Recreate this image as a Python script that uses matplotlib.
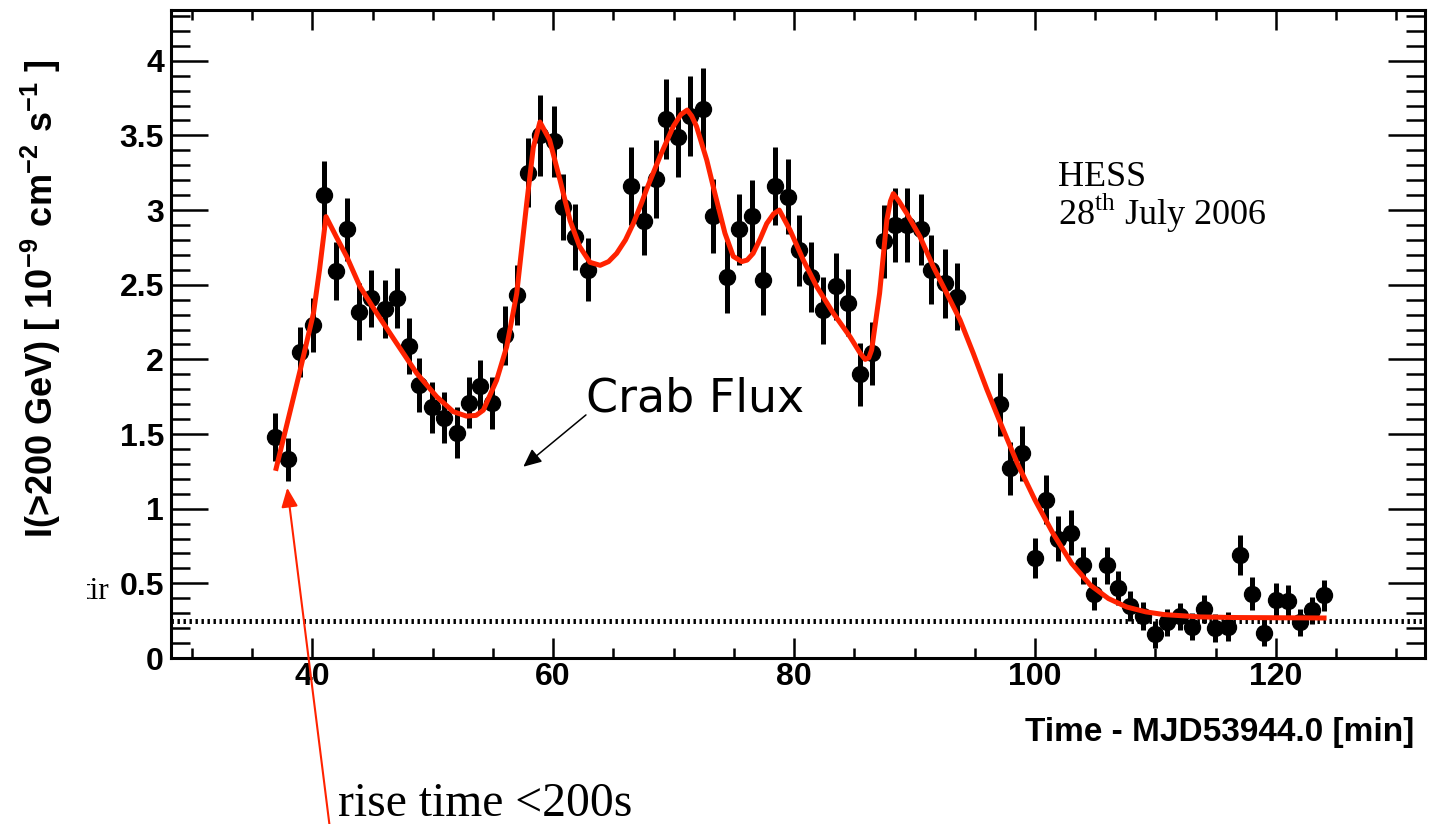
import numpy as np
import matplotlib
matplotlib.use("Agg")
import matplotlib.pyplot as plt
from matplotlib.ticker import MultipleLocator
from matplotlib.transforms import Bbox

# flux points (time in min after MJD53944.0, flux in 1e-9 cm^-2 s^-1)
t_pts = [36.9, 38.0, 39.0, 40.1, 41.0, 42.0, 42.9, 43.9, 44.9, 46.0,
         47.0, 48.0, 48.9, 49.9, 50.9, 52.0, 53.0, 53.9, 54.9, 56.0,
         57.0, 57.9, 58.9, 60.1, 60.8, 61.8, 62.9,
         66.5, 67.5, 68.5, 69.4, 70.4, 71.4, 72.4, 73.3, 74.4, 75.45,
         76.5, 77.45, 78.4, 79.5, 80.4, 81.4, 82.4, 83.5, 84.5, 85.5,
         86.5, 87.46, 88.4, 89.4, 90.5, 91.4, 92.5, 93.55,
         97.1, 97.9, 98.9, 100.0, 100.9, 101.9, 103.0, 104.0, 104.9, 105.95,
         106.9, 107.9, 109.0, 109.95, 111.0, 112.0, 113.05, 114.05, 114.95, 116.0,
         117.0, 118.0, 119.0, 120.0, 121.0, 122.0, 123.0, 124.0]
flux = [1.48, 1.33, 2.05, 2.23, 3.10, 2.59, 2.87, 2.32, 2.41, 2.34,
        2.41, 2.09, 1.83, 1.68, 1.61, 1.51, 1.71, 1.82, 1.71, 2.16,
        2.43, 3.25, 3.50, 3.46, 3.02, 2.82, 2.60,
        3.16, 2.93, 3.21, 3.61, 3.49, 3.63, 3.68, 2.96, 2.55, 2.87,
        2.96, 2.53, 3.16, 3.09, 2.73, 2.55, 2.33, 2.49, 2.38, 1.90,
        2.04, 2.79, 2.90, 2.90, 2.87, 2.60, 2.51, 2.42,
        1.70, 1.27, 1.37, 0.67, 1.06, 0.80, 0.84, 0.62, 0.43, 0.62,
        0.47, 0.35, 0.28, 0.16, 0.24, 0.28, 0.21, 0.33, 0.20, 0.21,
        0.69, 0.43, 0.17, 0.39, 0.38, 0.24, 0.32, 0.42]
flux_err = [0.16, 0.145, 0.17, 0.18, 0.23, 0.195, 0.21, 0.19, 0.19, 0.195,
            0.20, 0.185, 0.18, 0.17, 0.17, 0.17, 0.17, 0.175, 0.175, 0.195,
            0.20, 0.23, 0.27, 0.24, 0.22, 0.22, 0.21,
            0.26, 0.23, 0.26, 0.27, 0.27, 0.27, 0.27, 0.25, 0.24, 0.24,
            0.24, 0.23, 0.26, 0.25, 0.24, 0.235, 0.225, 0.225, 0.225, 0.21,
            0.21, 0.245, 0.25, 0.245, 0.24, 0.23, 0.23, 0.225,
            0.21, 0.175, 0.185, 0.135, 0.165, 0.15, 0.15, 0.125, 0.11, 0.125,
            0.115, 0.10, 0.095, 0.09, 0.09, 0.09, 0.09, 0.095, 0.095, 0.095,
            0.135, 0.11, 0.09, 0.11, 0.11, 0.09, 0.09, 0.105]

# fitted light curve (sum of bursts + constant)
fit_t = [37.0, 38.0, 39.0, 40.1, 40.6, 41.14, 42.0, 42.86, 43.96, 45.35,
         47.0, 48.67, 50.33, 51.7, 52.8, 53.6, 54.2, 55.3, 56.14, 56.97,
         57.8, 58.35, 58.9, 59.7, 60.57, 61.4, 62.2, 63.05, 63.9, 64.6,
         65.27, 66.0, 66.65, 67.3, 67.76, 68.87, 69.97, 70.6, 71.13, 71.5,
         71.9, 72.75, 73.43, 74.26, 74.95, 75.65, 76.1, 76.6, 77.2, 77.73,
         78.3, 78.77, 79.66, 80.76, 81.88, 83.26, 84.64, 85.5, 85.9, 86.2,
         86.44, 87.1, 87.7, 88.0, 88.24, 88.7, 89.35, 90.45, 91.56, 92.67,
         93.78, 94.88, 96.0, 97.0, 98.5, 100.0, 101.5, 103.05, 104.6, 106.1,
         107.6, 109.2, 110.7, 113.7, 116.8, 124.0]
fit_f = [1.27, 1.60, 1.93, 2.31, 2.60, 2.956, 2.82, 2.688, 2.487, 2.309,
         2.108, 1.907, 1.75, 1.65, 1.62, 1.625, 1.66, 1.86, 2.085, 2.44,
         3.045, 3.42, 3.59, 3.47, 3.2, 2.93, 2.755, 2.65, 2.63, 2.655,
         2.71, 2.80, 2.91, 3.04, 3.14, 3.36, 3.56, 3.64, 3.67, 3.63,
         3.56, 3.335, 3.11, 2.845, 2.69, 2.655, 2.665, 2.71, 2.81, 2.91,
         2.975, 3.0, 2.867, 2.666, 2.487, 2.309, 2.152, 2.04, 2.0, 2.01,
         2.063, 2.443, 2.934, 3.06, 3.11, 3.06, 2.978, 2.822, 2.62, 2.443,
         2.264, 2.04, 1.80, 1.60, 1.31, 1.058, 0.834, 0.633, 0.488, 0.398,
         0.342, 0.309, 0.291, 0.275, 0.271, 0.268]

baseline_flux = 0.248
RED = '#ff2200'

plt.rcParams['mathtext.fontset'] = 'custom'
plt.rcParams['mathtext.rm'] = 'Liberation Serif'
plt.rcParams['mathtext.bf'] = 'Liberation Sans:bold'

fig = plt.figure(figsize=(14.29, 8.24), dpi=100)
W, H = 1429, 824
ax = fig.add_axes([171 / W, 166 / H, 1254 / W, 648 / H])

ax.axhline(baseline_flux, color='black', lw=3.6, linestyle=(0, (0.48, 0.72)),
           dash_capstyle='butt', zorder=2)
ax.errorbar(t_pts, flux, yerr=flux_err, fmt='o', color='black', ms=11.5,
            elinewidth=3.6, capsize=0, zorder=3)
ax.plot(fit_t, fit_f, color=RED, lw=3.6, zorder=4, solid_joinstyle='round')

ax.set_xlim(28.27, 132.38)
ax.set_ylim(0, 4.34)
ax.xaxis.set_major_locator(MultipleLocator(20))
ax.xaxis.set_minor_locator(MultipleLocator(5))
ax.yaxis.set_major_locator(MultipleLocator(0.5))
ax.yaxis.set_minor_locator(MultipleLocator(0.1))
ax.yaxis.set_major_formatter(plt.FuncFormatter(lambda v, p: '%g' % v))

for s in ax.spines.values():
    s.set_linewidth(2.2)
ax.tick_params(which='both', direction='in', top=True, right=True, width=1.8)
ax.tick_params(axis='x', which='major', length=14.4, pad=3)
ax.tick_params(axis='x', which='minor', length=7.2)
ax.tick_params(axis='y', which='major', length=26.6, pad=5)
ax.tick_params(axis='y', which='minor', length=13.7)
for lab in ax.get_xticklabels() + ax.get_yticklabels():
    lab.set_family('Liberation Sans')
    lab.set_fontweight('bold')
    lab.set_fontsize(23)

# axis titles
fig.text(53 / W, 1 - 299 / H,
         r'I(>200 GeV) [ $\mathbf{10^{-9}\ cm^{-2}\ s^{-1}}$ ]',
         rotation=90, rotation_mode='anchor', ha='center', va='baseline',
         family='Liberation Sans', fontweight='bold', fontsize=26)
fig.text(1414 / W, (H - 741.5) / H, 'Time - MJD53944.0 [min]',
         ha='right', va='baseline', family='Liberation Sans',
         fontweight='bold', fontsize=24)

# annotations
ax.text(101.9, 3.16, 'HESS', family='Liberation Serif', fontsize=26, va='baseline')
ax.text(101.9, 2.90, r'28$^{\mathrm{th}}$ July 2006', family='Liberation Serif',
        fontsize=26, va='baseline')
ax.text(62.75, 1.65, 'Crab Flux', family='DejaVu Sans', fontsize=33, va='baseline')
ax.annotate('', xy=(57.52, 1.281), xytext=(62.72, 1.628),
            arrowprops=dict(arrowstyle='-|>,head_length=0.55,head_width=0.25',
                            color='black', lw=1.1, mutation_scale=20,
                            shrinkA=0, shrinkB=0))
rise = ax.annotate('', xy=(37.92, 1.14), xytext=(330, -5), textcoords='figure pixels',
                   annotation_clip=False,
                   arrowprops=dict(arrowstyle='-|>,head_length=0.58,head_width=0.25',
                                   color=RED, lw=1.5, mutation_scale=20,
                                   shrinkA=0, shrinkB=0))
rise.arrow_patch.set_clip_on(False)
fig.text(338 / W, 8 / H, 'rise time <200s', family='Liberation Serif',
         fontsize=34.3, va='baseline')

tir = fig.text(81.4 / W, 225 / H, 'tir', family='Liberation Serif',
               fontsize=22.5, va='baseline')
tir.set_clip_box(Bbox.from_extents(87, 0, 200, H))
tir.set_clip_on(True)

fig.savefig('out.png', dpi=100)
